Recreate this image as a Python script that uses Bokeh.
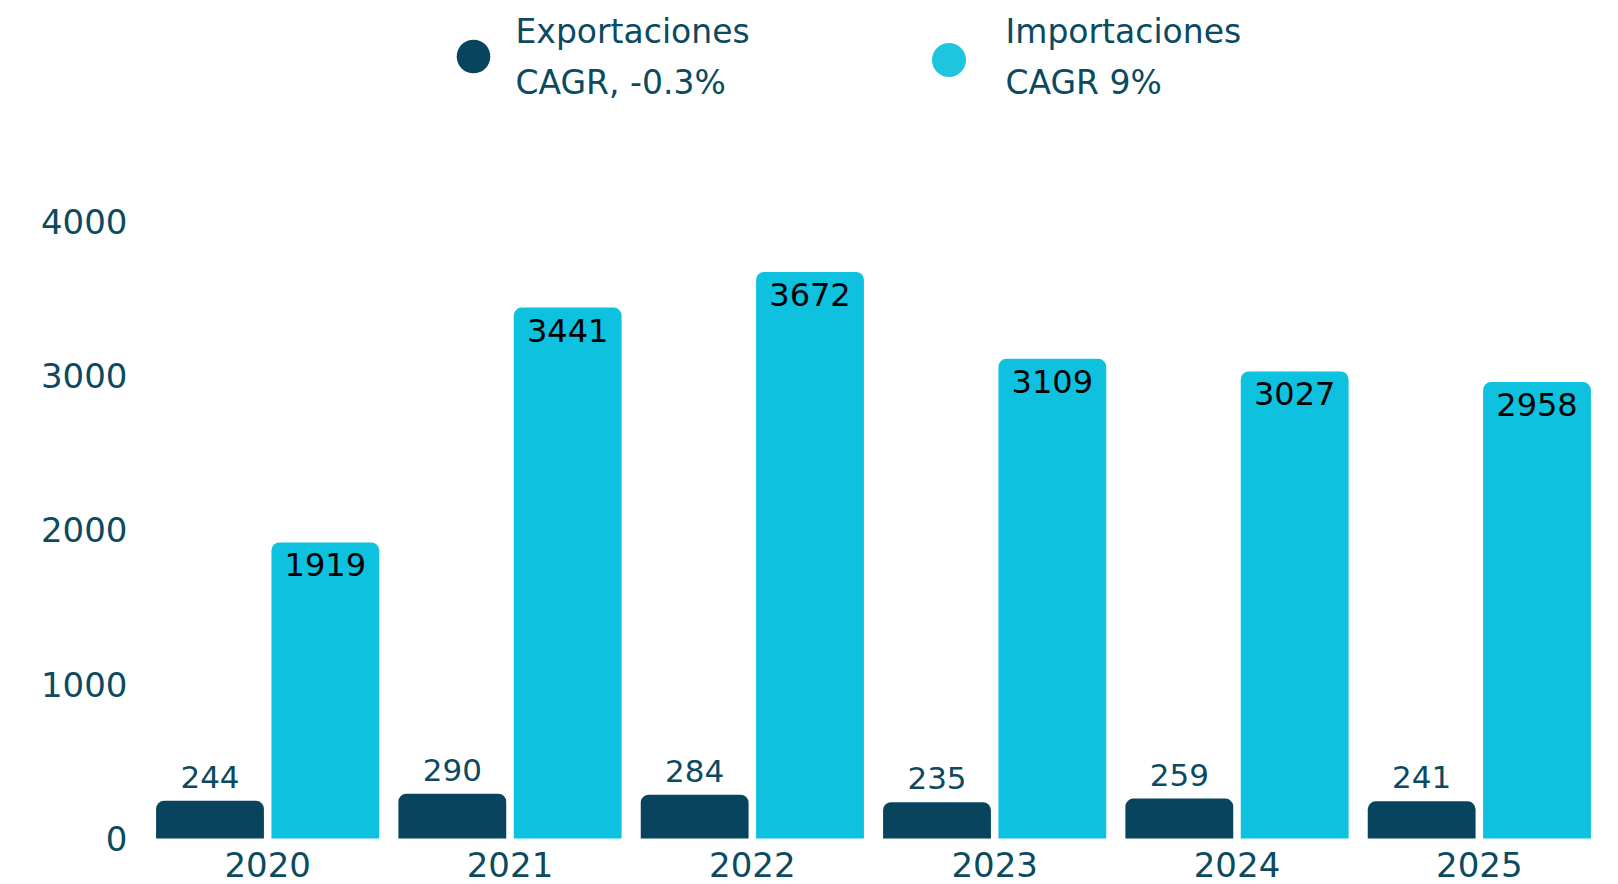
from bokeh.plotting import figure
from bokeh.models import (ColumnDataSource, FixedTicker, Legend, LegendItem,
                          FactorRange, LabelSet, Label)
from bokeh.transform import dodge
from bokeh.core.properties import value
from bokeh.embed import file_html
from bokeh.resources import INLINE

years = ["2020", "2021", "2022", "2023", "2024", "2025"]
exportaciones = [244, 290, 284, 235, 259, 241]
importaciones = [1919, 3441, 3672, 3109, 3027, 2958]
series_names = ["Exportaciones", "Importaciones"]
cagr_labels = ["CAGR, -0.3%", "CAGR 9%"]
y_ticks = [0, 1000, 2000, 3000, 4000]

DARK = "#08445D"
LIGHT = "#0DC1DF"
LEG_LIGHT = "#1DC6DE"
TXT = "#0B4A5F"
FONT = "DejaVu Sans"

src = ColumnDataSource(dict(
    year=years,
    exp=exportaciones,
    imp=importaciones,
    zero=[0] * len(years),
    exp_txt=[str(v) for v in exportaciones],
    imp_txt=[str(v) for v in importaciones],
))

p = figure(
    x_range=FactorRange(*years), y_range=(-298, 5431),
    width=1602, height=884, output_backend="svg", toolbar_location=None,
    min_border_left=146, min_border_right=2, min_border_top=0, min_border_bottom=0,
)
p.outline_line_color = None
p.background_fill_color = "white"
p.border_fill_color = "white"
p.xgrid.grid_line_color = None
p.ygrid.grid_line_color = None

x_exp = dodge("year", -0.238, range=p.x_range)
x_imp = dodge("year", 0.238, range=p.x_range)

p.vbar(x=x_exp, top="exp", width=0.445, source=src,
       fill_color=DARK, line_color=None, border_radius=(8, 8, 0, 0))
p.vbar(x=x_imp, top="imp", width=0.445, source=src,
       fill_color=LIGHT, line_color=None, border_radius=(8, 8, 0, 0))

p.add_layout(LabelSet(x=x_exp, y="exp", text="exp_txt", source=src,
                      text_align="center", text_baseline="alphabetic", y_offset=13,
                      text_font=value(FONT), text_font_size="31px", text_color=TXT))
p.add_layout(LabelSet(x=x_imp, y="imp", text="imp_txt", source=src,
                      text_align="center", text_baseline="alphabetic", y_offset=-34,
                      text_font=value(FONT), text_font_size="32px", text_color="#000000"))

# category (year) labels below the baseline
p.add_layout(LabelSet(x="year", y="zero", text="year", source=src,
                      text_align="center", text_baseline="alphabetic", y_offset=-38,
                      text_font=value(FONT), text_font_size="34px", text_color=TXT))

# legend markers (one point kept out of view, only used for the legend glyph)
leg_src = ColumnDataSource(dict(x=[years[0]], y=[-5000]))
d1 = p.scatter(x="x", y="y", source=leg_src, marker="circle", fill_color=DARK, line_color=None)
d2 = p.scatter(x="x", y="y", source=leg_src, marker="circle", fill_color=LEG_LIGHT, line_color=None)

for r, loc, gs in [(d1, (284.8, 785.7), 84), (d2, (760, 781.7), 85)]:
    lg = Legend(items=[LegendItem(label=" ", renderers=[r], index=0)], location=loc,
                glyph_width=gs, glyph_height=gs, label_standoff=0, label_width=1,
                padding=0, margin=0, spacing=0,
                border_line_color=None, background_fill_alpha=0,
                label_text_font=FONT, label_text_font_size="10px")
    p.add_layout(lg, "center")

# legend texts
for name, cagr, lx in [(series_names[0], cagr_labels[0], 369),
                       (series_names[1], cagr_labels[1], 859)]:
    for txt, ly in [(name, 853), (cagr, 802)]:
        p.add_layout(Label(x=lx, y=ly, x_units="screen", y_units="screen", text=txt,
                           text_align="left", text_baseline="alphabetic",
                           text_font=FONT, text_font_size="33px", text_color=TXT))

p.xaxis.visible = False
p.yaxis.ticker = FixedTicker(ticks=y_ticks)
ax = p.yaxis
ax.axis_line_color = None
ax.major_tick_line_color = None
ax.minor_tick_line_color = None
ax.major_tick_in = 0
ax.major_tick_out = 0
ax.major_label_text_font = FONT
ax.major_label_text_font_size = "34px"
ax.major_label_text_color = TXT
ax.major_label_standoff = 19

open("out.html", "w").write(file_html(p, INLINE))
